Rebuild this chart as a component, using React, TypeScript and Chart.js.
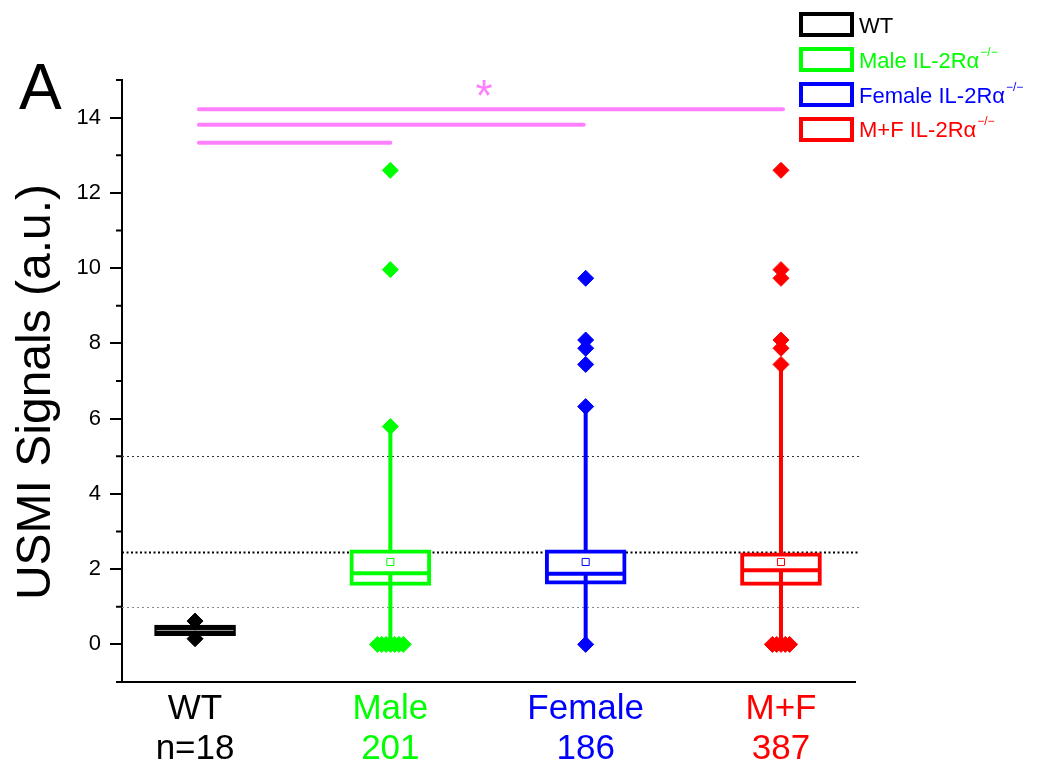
import React, { useEffect, useRef } from "react";
import { Chart, registerables } from "chart.js";

Chart.register(...registerables);

const FONT = "'Liberation Sans', Arial, sans-serif";

// categories
const groups = ["WT", "Male", "Female", "M+F"];
const groupCounts = ["n=18", "201", "186", "387"];
const groupColors = ["#000000", "#00ff00", "#0000ff", "#ff0000"];
const boxFills = ["#000000", "#ffffff", "#ffffff", "#ffffff"];
const groupPos = [1, 2, 3, 4];

// box statistics
const boxLow = [0.23, 1.57, 1.6, 1.57];
const boxHigh = [0.51, 2.51, 2.51, 2.43];
const medians = [0.37, 1.89, 1.88, 1.97];
const means: (number | null)[] = [null, 2.19, 2.19, 2.19];
const whiskerLow = [0.15, 0, 0, 0];
const whiskerHigh = [0.62, 5.79, 6.32, 7.44];

// individual points drawn as diamonds
const wtPoints = [0.62, 0.15];
const malePoints = [12.6, 9.96, 5.79, 0, 0, 0, 0, 0, 0, 0];
const femalePoints = [9.73, 8.09, 7.87, 7.44, 6.32, 0];
const mfPoints = [12.6, 9.96, 9.73, 8.09, 7.87, 7.44, 0, 0, 0, 0, 0];
const groupPoints = [wtPoints, malePoints, femalePoints, mfPoints];

// axis ticks
const yMajorTicks = [0, 2, 4, 6, 8, 10, 12, 14];
const yMinorTicks = [-1, 1, 3, 5, 7, 9, 11, 13, 15];

// reference dotted lines
const refLines = [5, 2.46, 1];
const refColors = ["#333333", "#000000", "#888888"];

// significance bars
const sigStart = [1.02, 1.02, 1.02];
const sigEnd = [2.0, 2.99, 4.01];
const sigLevel = [13.33, 13.81, 14.22];
const starAt = [2.48, 14.83];

// legend
const legendLabels = ["WT", "Male IL-2Rα", "Female IL-2Rα", "M+F IL-2Rα"];
const legendSup = ["", "−/−", "−/−", "−/−"];

const DODGE = 0.022;

function dodge(values: number[], pos: number) {
  const seen: Record<string, number> = {};
  const totals: Record<string, number> = {};
  values.forEach((v) => (totals[v] = (totals[v] || 0) + 1));
  return values.map((v) => {
    const k = seen[v] || 0;
    seen[v] = k + 1;
    const n = totals[v];
    return { x: pos + (k - (n - 1) / 2) * DODGE, y: v };
  });
}

const boxPlugin = {
  id: "boxExtras",
  beforeDatasetsDraw(chart: any) {
    const { ctx, chartArea, scales } = chart;
    const y = scales.y;
    ctx.save();
    refLines.forEach((v, i) => {
      const py = Math.round(y.getPixelForValue(v)) + 0.5;
      ctx.beginPath();
      ctx.strokeStyle = refColors[i];
      ctx.lineWidth = i === 1 ? 1.8 : 1.2;
      ctx.setLineDash(i === 1 ? [2, 2.5] : [2, 3]);
      ctx.moveTo(chartArea.left, py);
      ctx.lineTo(chartArea.right + 4, py);
      ctx.stroke();
    });
    ctx.restore();
  },
  afterDatasetDraw(chart: any, args: any) {
    if (args.index !== 0) return;
    const { ctx, scales } = chart;
    const x = scales.x;
    const y = scales.y;
    ctx.save();
    ctx.lineCap = "butt";
    groupPos.forEach((g, i) => {
      const px = x.getPixelForValue(g);
      ctx.strokeStyle = groupColors[i];
      ctx.lineWidth = 4;
      ctx.beginPath();
      ctx.moveTo(px, y.getPixelForValue(whiskerHigh[i]));
      ctx.lineTo(px, y.getPixelForValue(boxHigh[i]));
      ctx.moveTo(px, y.getPixelForValue(whiskerLow[i]));
      ctx.lineTo(px, y.getPixelForValue(medians[i]));
      ctx.stroke();
      const half = 81 / 2 - 2;
      const pm = y.getPixelForValue(medians[i]);
      ctx.beginPath();
      ctx.strokeStyle = i === 0 ? "#9a9a9a" : groupColors[i];
      ctx.lineWidth = i === 0 ? 1 : 4;
      ctx.moveTo(px - half, pm);
      ctx.lineTo(px + half, pm);
      ctx.stroke();
    });
    ctx.restore();
  },
  afterDraw(chart: any) {
    const { ctx, chartArea, scales } = chart;
    const x = scales.x;
    const y = scales.y;
    ctx.save();
    // minor ticks
    ctx.strokeStyle = "#000";
    ctx.lineWidth = 2;
    yMinorTicks.forEach((v) => {
      const py = y.getPixelForValue(v);
      ctx.beginPath();
      ctx.moveTo(chartArea.left - 6, py);
      ctx.lineTo(chartArea.left, py);
      ctx.stroke();
    });
    // significance bars
    ctx.strokeStyle = "#ff80ff";
    ctx.lineWidth = 4;
    ctx.lineCap = "round";
    sigLevel.forEach((lv, i) => {
      const py = y.getPixelForValue(lv);
      ctx.beginPath();
      ctx.moveTo(x.getPixelForValue(sigStart[i]), py);
      ctx.lineTo(x.getPixelForValue(sigEnd[i]), py);
      ctx.stroke();
    });
    ctx.fillStyle = "#ff80ff";
    ctx.font = `44px ${FONT}`;
    ctx.textAlign = "center";
    ctx.textBaseline = "alphabetic";
    ctx.fillText("*", x.getPixelForValue(starAt[0]), y.getPixelForValue(starAt[1]) + 0.55 * 44);
    // panel letter
    ctx.fillStyle = "#000";
    ctx.textAlign = "left";
    ctx.font = `64px ${FONT}`;
    ctx.fillText("A", 19, 109);
    // y title
    ctx.save();
    ctx.translate(50, 392);
    ctx.rotate(-Math.PI / 2);
    ctx.textAlign = "center";
    ctx.font = `48px ${FONT}`;
    ctx.fillText("USMI Signals (a.u.)", 0, 0);
    ctx.restore();
    // legend
    ctx.lineCap = "butt";
    ctx.lineJoin = "miter";
    legendLabels.forEach((lab, i) => {
      const top = 14 + i * 35;
      ctx.strokeStyle = groupColors[i];
      ctx.lineWidth = 4;
      ctx.strokeRect(801, top, 51, 21);
      ctx.fillStyle = groupColors[i];
      ctx.font = `22px ${FONT}`;
      ctx.textAlign = "left";
      const base = 33 + i * 34.8;
      ctx.fillText(lab, 859, base);
      if (legendSup[i]) {
        const w = ctx.measureText(lab).width;
        ctx.font = `12px ${FONT}`;
        ctx.fillText(legendSup[i], 859 + w + 1, base - 12);
      }
    });
    ctx.restore();
  },
};

export default function App() {
  const ref = useRef<HTMLCanvasElement | null>(null);
  useEffect(() => {
    if (!ref.current) return;
    const datasets: any[] = [
      {
        type: "bar",
        data: groupPos.map((g, i) => ({ x: g, y: [boxLow[i], boxHigh[i]] })),
        backgroundColor: boxFills,
        borderColor: groupColors,
        borderWidth: 4,
        borderSkipped: false,
        barThickness: 81,
        grouped: false,
        order: 5,
      },
      ...groupPoints.map((pts, i) => ({
        type: "scatter",
        data: dodge(pts, groupPos[i]),
        pointStyle: "rectRot",
        pointRadius: 8,
        pointBorderWidth: 1,
        pointBackgroundColor: groupColors[i],
        pointBorderColor: groupColors[i],
        showLine: false,
        order: 2,
      })),
      {
        type: "scatter",
        data: groupPos
          .map((g, i) => (means[i] === null ? null : { x: g, y: means[i] }))
          .filter((d) => d !== null),
        pointStyle: "rect",
        pointRadius: 5,
        pointBorderWidth: 1,
        pointBackgroundColor: "#ffffff",
        pointBorderColor: groupColors.slice(1),
        showLine: false,
        order: 1,
      },
    ];
    const chart = new Chart(ref.current, {
      type: "bar",
      data: { datasets },
      options: {
        animation: false,
        responsive: false,
        devicePixelRatio: 1,
        layout: { padding: { top: 80, right: 198, left: 0, bottom: 0 } },
        plugins: { legend: { display: false }, tooltip: { enabled: false } },
        scales: {
          x: {
            type: "linear",
            offset: false,
            min: 0.626,
            max: 4.379,
            afterBuildTicks: (s: any) => {
              s.ticks = groupPos.map((v) => ({ value: v }));
            },
            afterFit: (s: any) => {
              s.height = 80;
            },
            grid: { display: false, drawTicks: false, offset: false },
            border: { display: true, color: "#000", width: 2 },
            ticks: {
              padding: 8,
              font: { family: FONT, size: 35, lineHeight: 1.13 },
              color: (c: any) => groupColors[groupPos.indexOf(c.tick?.value)] || "#000",
              callback: (v: any) => {
                const i = groupPos.indexOf(v);
                return i >= 0 ? [groups[i], groupCounts[i]] : "";
              },
              maxRotation: 0,
              autoSkip: false,
            },
          },
          y: {
            type: "linear",
            min: -1,
            max: 15,
            afterBuildTicks: (s: any) => {
              s.ticks = yMajorTicks.map((v) => ({ value: v }));
            },
            afterFit: (s: any) => {
              s.width = 122;
            },
            grid: {
              display: true,
              drawOnChartArea: false,
              drawTicks: true,
              tickLength: 12,
              color: "#000",
              lineWidth: 2,
            },
            border: { display: true, color: "#000", width: 2 },
            ticks: {
              padding: 9,
              color: "#000",
              font: { family: FONT, size: 22 },
              callback: (v: any) => String(v),
            },
          },
        },
      },
      plugins: [boxPlugin],
    } as any);
    return () => chart.destroy();
  }, []);
  return (
    <div style={{ position: "absolute", left: 0, top: 0, background: "#fff" }}>
      <canvas ref={ref} width={1053} height={762} style={{ display: "block" }} />
    </div>
  );
}
